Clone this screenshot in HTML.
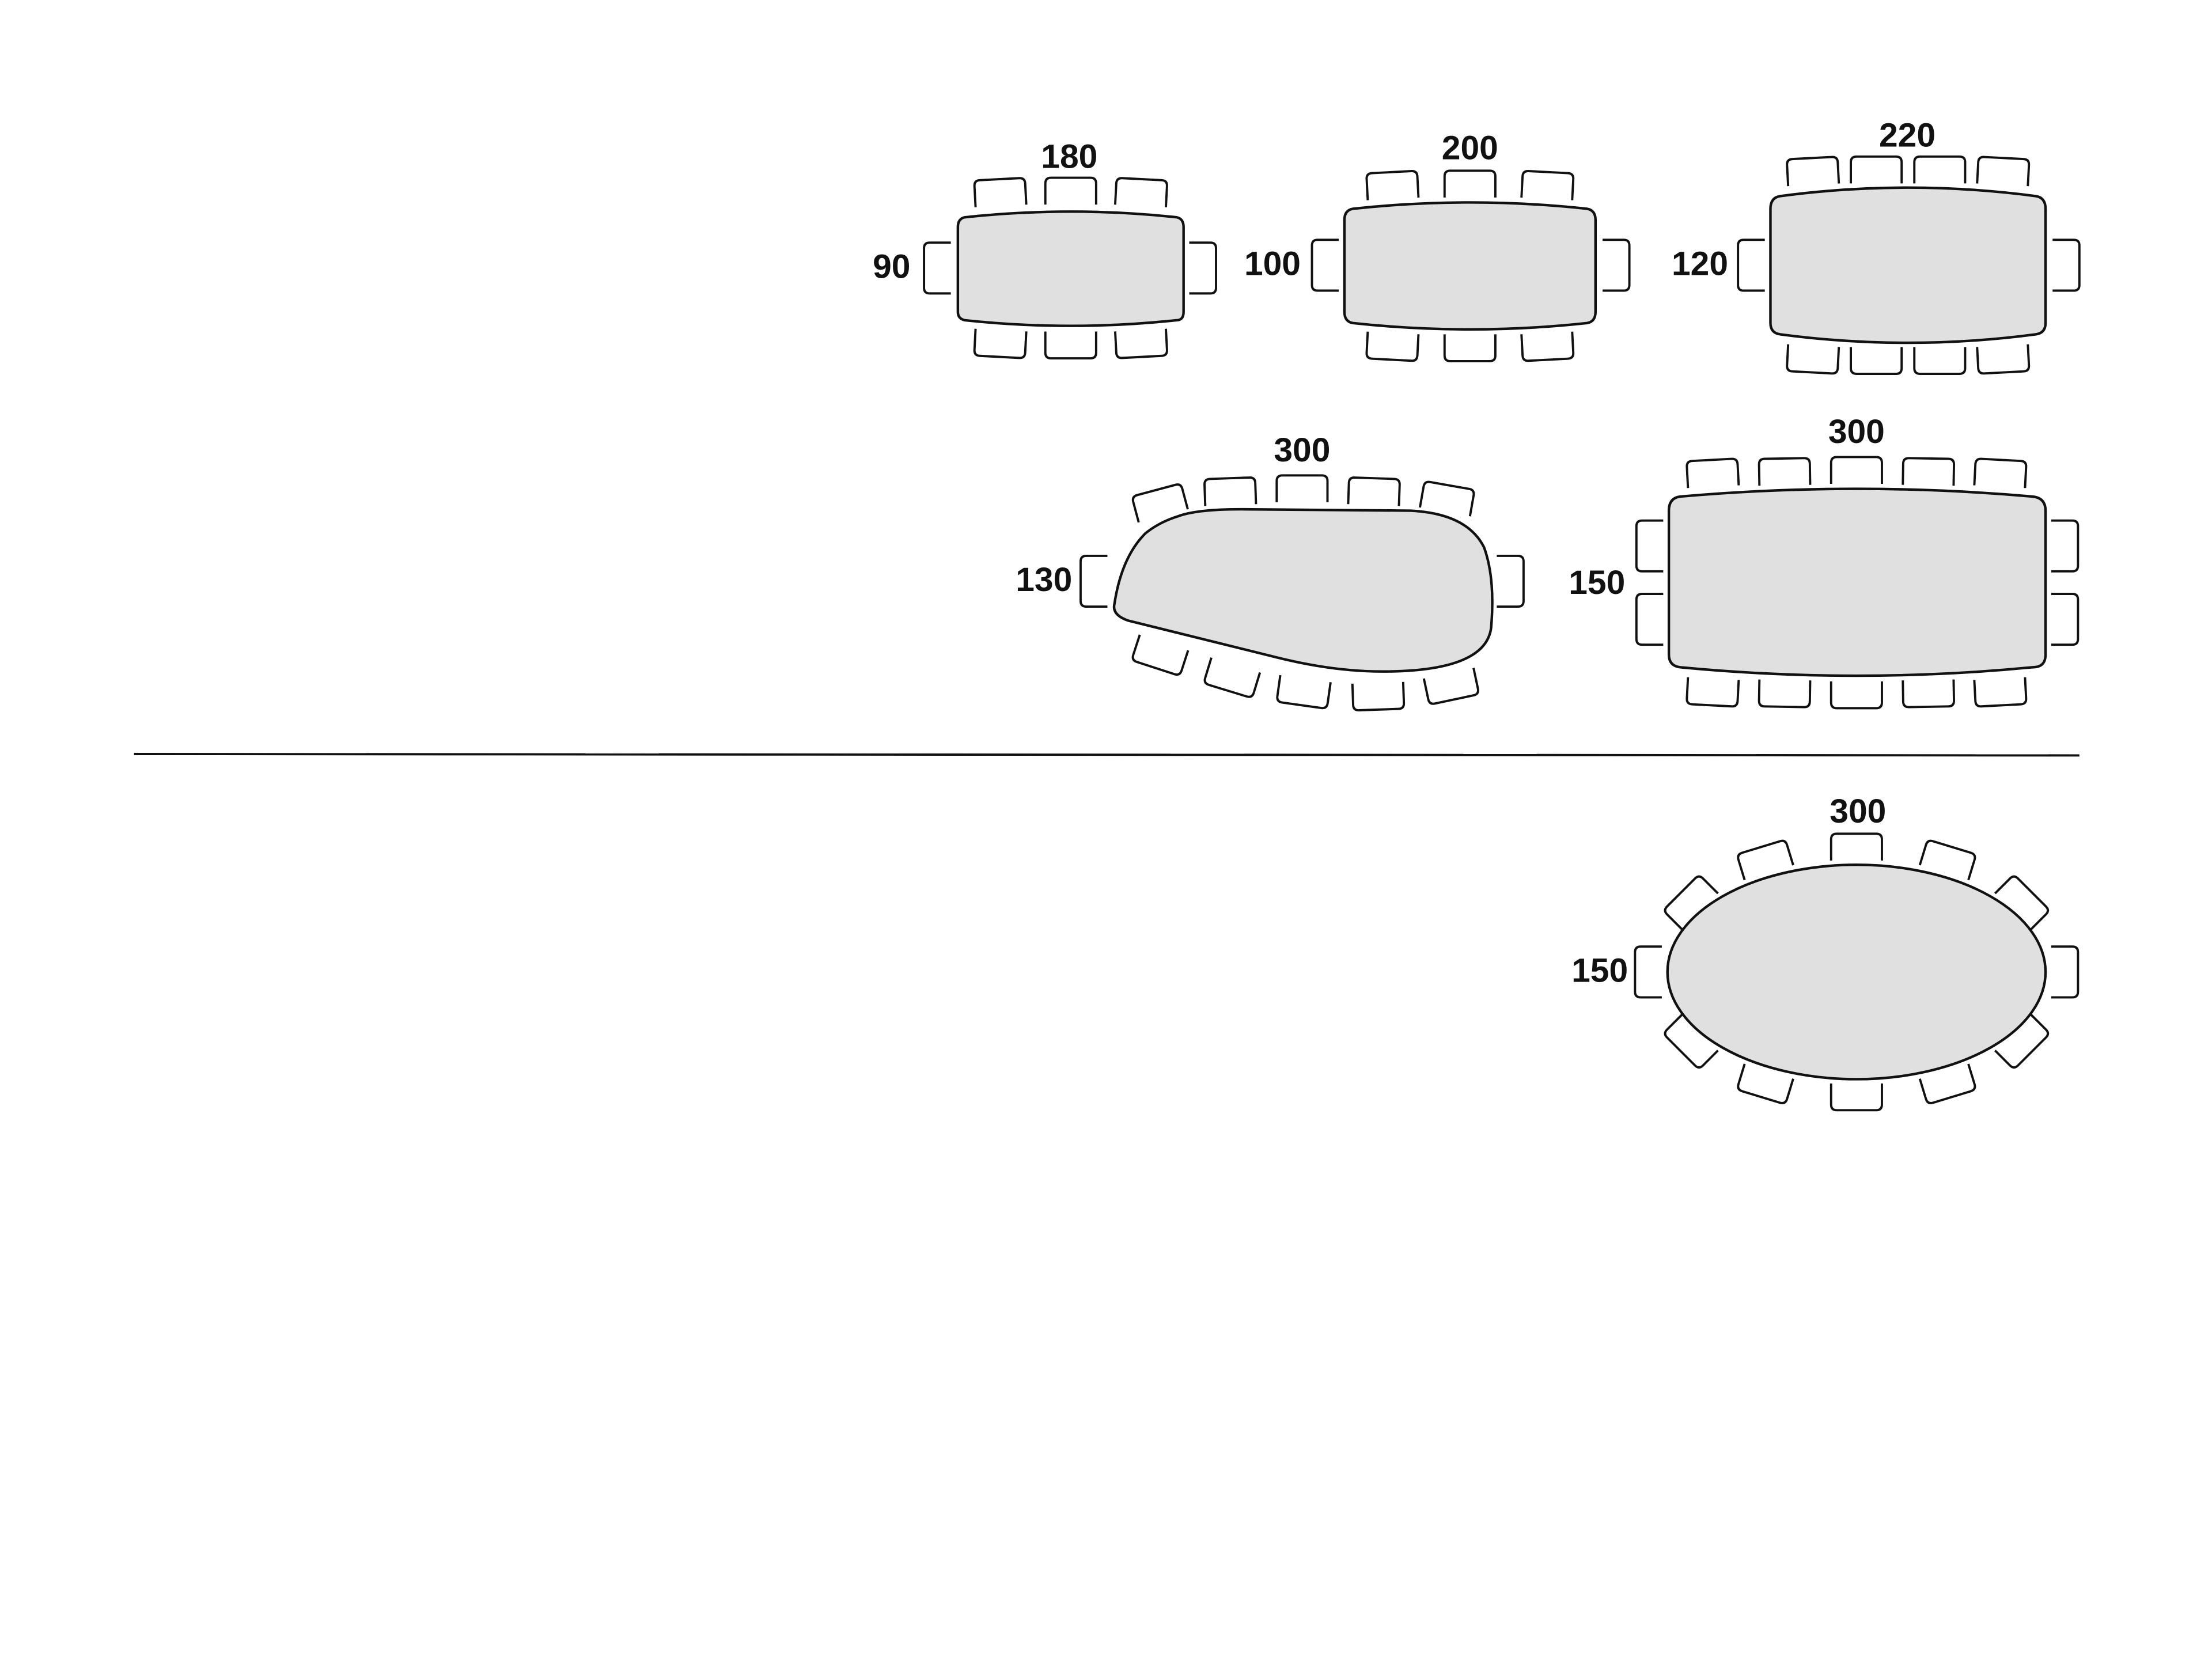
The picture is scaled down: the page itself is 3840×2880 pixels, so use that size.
<!DOCTYPE html>
<html><head><meta charset="utf-8"><style>
html,body{margin:0;padding:0;background:#fff;}
svg{display:block;}
text{font-family:"Liberation Sans",sans-serif;font-weight:bold;font-size:24px;fill:#111;text-anchor:middle;}
</style></head><body>
<svg width="3840" height="2880" viewBox="0 0 1568 1176" xmlns="http://www.w3.org/2000/svg">
<defs>
<path id="c" d="M-18,10 V-5 Q-18,-9 -14,-9 H14 Q18,-9 18,-5 V10" fill="none" stroke="#111" stroke-width="1.6" stroke-linejoin="round"/>
</defs>
<g fill="#e0e0e0" stroke="#111" stroke-width="1.8">
<path d="M684,154 Q759,146 834,154 Q839,155 839,161 V221 Q839,227 834,227 Q759,235 684,227 Q679,226 679,221 V161 Q679,155 684,154Z"/>
<path d="M959,148 Q1042,139 1125,148 Q1131,149 1131,156 V221 Q1131,228 1125,229 Q1042,238 959,229 Q953,228 953,221 V156 Q953,149 959,148Z"/>
<path d="M1262,139 Q1352,127 1443,139 Q1450,140 1450,148 V229 Q1450,236 1443,237 Q1352,249 1262,237 Q1255,236 1255,229 V148 Q1255,140 1262,139Z"/>
<path d="M835,366 Q848,361 880,361 L1000,362 Q1040,364 1052,388 Q1060,410 1057,445 Q1053,476 980,476 Q945,476 905,466 L800,440 Q788,436 790,428 Q795,395 812,378 Q822,370 835,366Z"/>
<path d="M1191,352 Q1316,341 1441,352 Q1450,353 1450,362 V464 Q1450,473 1441,473 Q1316,485 1191,473 Q1183,472 1183,464 V362 Q1183,353 1191,352Z"/>
<ellipse cx="1316" cy="689" rx="134" ry="76"/>
</g>
<line x1="95" y1="534.5" x2="1474" y2="535.5" stroke="#111" stroke-width="1.6"/>
<use href="#c" transform="translate(709,136) rotate(-3)"/>
<use href="#c" transform="translate(759,135)"/>
<use href="#c" transform="translate(809,136) rotate(3)"/>
<use href="#c" transform="translate(709,244) rotate(183)"/>
<use href="#c" transform="translate(759,245) rotate(180)"/>
<use href="#c" transform="translate(809,244) rotate(177)"/>
<use href="#c" transform="translate(664,190) rotate(-90)"/>
<use href="#c" transform="translate(853,190) rotate(90)"/>
<text x="758" y="119">180</text><text x="632" y="197">90</text>
<use href="#c" transform="translate(987,131) rotate(-3)"/>
<use href="#c" transform="translate(1042,130)"/>
<use href="#c" transform="translate(1097,131) rotate(3)"/>
<use href="#c" transform="translate(987,246) rotate(183)"/>
<use href="#c" transform="translate(1042,247) rotate(180)"/>
<use href="#c" transform="translate(1097,246) rotate(177)"/>
<use href="#c" transform="translate(939,188) rotate(-90)"/>
<use href="#c" transform="translate(1146,188) rotate(90)"/>
<text x="1042" y="113">200</text><text x="902" y="195">100</text>
<use href="#c" transform="translate(1285,121) rotate(-3)"/>
<use href="#c" transform="translate(1330,120)"/>
<use href="#c" transform="translate(1375,120)"/>
<use href="#c" transform="translate(1420,121) rotate(3)"/>
<use href="#c" transform="translate(1285,255) rotate(183)"/>
<use href="#c" transform="translate(1330,256) rotate(180)"/>
<use href="#c" transform="translate(1375,256) rotate(180)"/>
<use href="#c" transform="translate(1420,255) rotate(177)"/>
<use href="#c" transform="translate(1241,188) rotate(-90)"/>
<use href="#c" transform="translate(1465,188) rotate(90)"/>
<text x="1352" y="104">220</text><text x="1205" y="195">120</text>
<use href="#c" transform="translate(822,356) rotate(-15)"/>
<use href="#c" transform="translate(872,348) rotate(-2)"/>
<use href="#c" transform="translate(923,346)"/>
<use href="#c" transform="translate(974,348) rotate(2)"/>
<use href="#c" transform="translate(1026,353) rotate(10)"/>
<use href="#c" transform="translate(822,465) rotate(198)"/>
<use href="#c" transform="translate(873,481) rotate(197)"/>
<use href="#c" transform="translate(924,491) rotate(188)"/>
<use href="#c" transform="translate(977,494) rotate(178)"/>
<use href="#c" transform="translate(1029,487) rotate(168)"/>
<use href="#c" transform="translate(775,412) rotate(-90)"/>
<use href="#c" transform="translate(1071,412) rotate(90)"/>
<text x="923" y="327">300</text><text x="740" y="419">130</text>
<use href="#c" transform="translate(1214,335) rotate(-3)"/>
<use href="#c" transform="translate(1265,334) rotate(-1)"/>
<use href="#c" transform="translate(1316,333)"/>
<use href="#c" transform="translate(1367,334) rotate(1)"/>
<use href="#c" transform="translate(1418,335) rotate(3)"/>
<use href="#c" transform="translate(1214,491) rotate(183)"/>
<use href="#c" transform="translate(1265,492) rotate(181)"/>
<use href="#c" transform="translate(1316,493) rotate(180)"/>
<use href="#c" transform="translate(1367,492) rotate(179)"/>
<use href="#c" transform="translate(1418,491) rotate(177)"/>
<use href="#c" transform="translate(1169,387) rotate(-90)"/>
<use href="#c" transform="translate(1169,439) rotate(-90)"/>
<use href="#c" transform="translate(1464,387) rotate(90)"/>
<use href="#c" transform="translate(1464,439) rotate(90)"/>
<text x="1316" y="314">300</text><text x="1132" y="421">150</text>
<use href="#c" transform="translate(1316,600)"/>
<use href="#c" transform="translate(1251,609) rotate(-17)"/>
<use href="#c" transform="translate(1381,609) rotate(17)"/>
<use href="#c" transform="translate(1198,639) rotate(-45)"/>
<use href="#c" transform="translate(1434,639) rotate(45)"/>
<use href="#c" transform="translate(1168,689) rotate(-90)"/>
<use href="#c" transform="translate(1464,689) rotate(90)"/>
<use href="#c" transform="translate(1198,739) rotate(225)"/>
<use href="#c" transform="translate(1434,739) rotate(135)"/>
<use href="#c" transform="translate(1251,769) rotate(197)"/>
<use href="#c" transform="translate(1381,769) rotate(163)"/>
<use href="#c" transform="translate(1316,778) rotate(180)"/>
<text x="1317" y="583">300</text><text x="1134" y="696">150</text>
</svg>
</body></html>
